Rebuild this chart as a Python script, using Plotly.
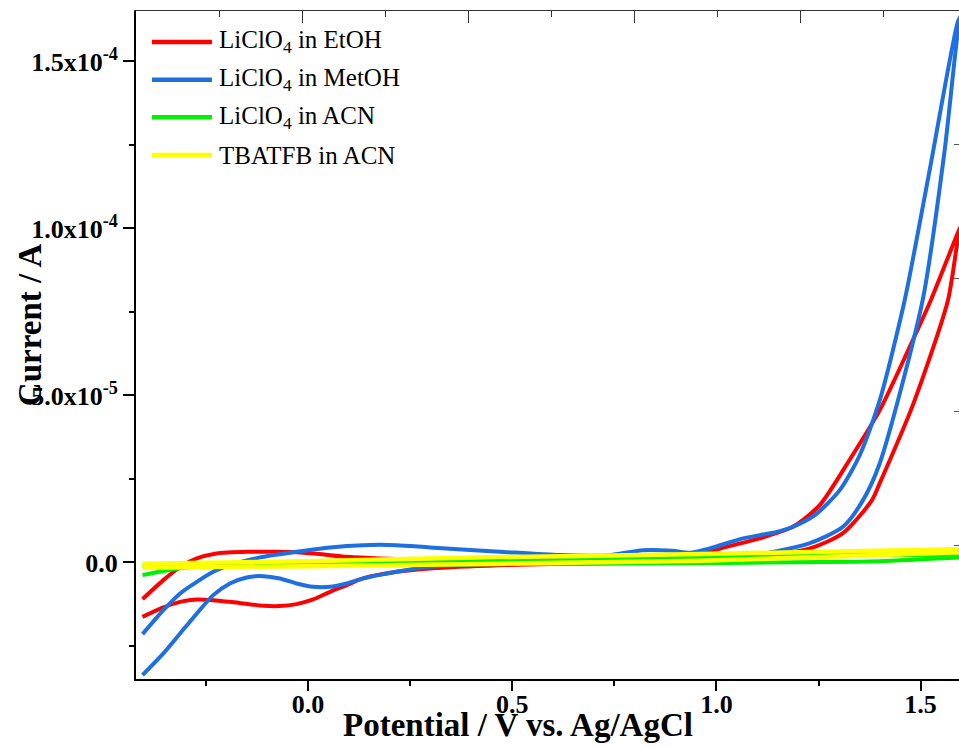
import plotly.graph_objects as go

# ---------------- data (potential in V, current in A) ----------------
names = ["LiClO<sub>4</sub> in EtOH", "LiClO<sub>4</sub> in MetOH",
         "LiClO<sub>4</sub> in ACN", "TBATFB in ACN"]
colors = ["#FF0000", "#1E6FDF", "#00F000", "#FFFF00"]

etoh_fwd_v = [-0.405, -0.354, -0.313, -0.272, -0.224, -0.150, -0.069, 0.013, 0.095, 0.176,
              0.299, 0.470, 0.617, 0.764, 0.942, 1.025, 1.106, 1.187, 1.253, 1.327,
              1.400, 1.481, 1.525, 1.591, 1.600]
etoh_fwd_i = [-10.99e-6, -5.30e-6, -1.32e-6, 1.20e-6, 2.69e-6, 3.17e-6, 3.17e-6, 2.69e-6, 1.68e-6, 1.20e-6,
              0.90e-6, 1.14e-6, 1.35e-6, 1.50e-6, 2.19e-6, 4.67e-6, 7.19e-6, 10.66e-6, 17.16e-6, 30.9e-6,
              45.6e-6, 66.6e-6, 78.5e-6, 98.6e-6, 101.0e-6]
etoh_rev_v = [1.600, 1.591, 1.567, 1.481, 1.400, 1.381, 1.310, 1.229, 1.106, 0.960,
              0.715, 0.470, 0.299, 0.217, 0.135, 0.095, 0.054, 0.013, -0.028, -0.069,
              -0.109, -0.191, -0.232, -0.272, -0.313, -0.354, -0.405]
etoh_rev_i = [101.0e-6, 96.5e-6, 78.5e-6, 47.1e-6, 23.74e-6, 18.65e-6, 8.77e-6, 4.19e-6, 1.68e-6, 0.70e-6,
              -0.21e-6, -0.81e-6, -1.80e-6, -2.81e-6, -4.79e-6, -6.80e-6, -8.80e-6, -11.08e-6, -12.48e-6, -13.08e-6,
              -12.99e-6, -11.80e-6, -11.29e-6, -11.08e-6, -11.80e-6, -13.47e-6, -16.29e-6]

meoh_fwd_v = [-0.405, -0.354, -0.313, -0.272, -0.232, -0.191, -0.109, -0.028, 0.054, 0.135,
              0.217, 0.299, 0.470, 0.617, 0.739, 0.820, 0.893, 0.935, 0.984, 1.065,
              1.148, 1.187, 1.241, 1.302, 1.351, 1.400, 1.461, 1.523, 1.591, 1.600]
meoh_fwd_i = [-21.47e-6, -14.28e-6, -9.28e-6, -5.81e-6, -2.81e-6, -0.81e-6, 1.68e-6, 3.17e-6, 4.49e-6, 5.18e-6,
              5.18e-6, 4.49e-6, 3.23e-6, 2.19e-6, 2.19e-6, 3.68e-6, 3.47e-6, 2.87e-6, 4.19e-6, 7.19e-6,
              9.16e-6, 10.66e-6, 14.16e-6, 21.64e-6, 32.1e-6, 48.6e-6, 78.5e-6, 118.0e-6, 161.8e-6, 164.0e-6]
meoh_rev_v = [1.600, 1.591, 1.559, 1.505, 1.400, 1.359, 1.310, 1.229, 1.138, 1.040,
              0.960, 0.715, 0.470, 0.299, 0.217, 0.135, 0.095, 0.054, 0.013, -0.028,
              -0.069, -0.109, -0.150, -0.191, -0.232, -0.272, -0.313, -0.354, -0.405]
meoh_rev_i = [164.0e-6, 158.6e-6, 123.5e-6, 78.5e-6, 29.7e-6, 18.65e-6, 10.66e-6, 5.78e-6, 3.17e-6, 1.59e-6,
              0.99e-6, 0.39e-6, -0.21e-6, -1.32e-6, -2.81e-6, -4.79e-6, -6.29e-6, -7.31e-6, -7.31e-6, -6.29e-6,
              -4.79e-6, -4.10e-6, -4.49e-6, -6.29e-6, -9.79e-6, -15.27e-6, -21.26e-6, -27.25e-6, -33.74e-6]

acn_fwd_v = [-0.405, -0.313, -0.191, 0.000, 0.225, 0.470, 0.715, 0.960, 1.204, 1.400, 1.600]
acn_fwd_i = [-3.80e-6, -1.71e-6, -1.11e-6, -0.81e-6, -0.66e-6, -0.51e-6, -0.36e-6, -0.21e-6, 0.09e-6, 0.39e-6, 1.50e-6]
acn_rev_v = [1.600, 1.449, 1.351, 1.204, 0.984, 0.715, 0.470, 0.225, 0.000, -0.191, -0.405]
acn_rev_i = [1.80e-6, 2.30e-6, 2.60e-6, 2.30e-6, 1.68e-6, 0.99e-6, 0.39e-6, 0.09e-6, -0.21e-6, -0.51e-6, -1.11e-6]

tba_fwd_v = [-0.405, 0.000, 0.470, 0.960, 1.327, 1.600]
tba_fwd_i = [-1.56e-6, -1.11e-6, -0.36e-6, 0.54e-6, 1.89e-6, 3.08e-6]
tba_rev_v = [1.600, 1.327, 0.960, 0.470, 0.000, -0.405]
tba_rev_i = [3.98e-6, 3.38e-6, 2.49e-6, 1.59e-6, 0.39e-6, -0.36e-6]

y_tickvals = [0.0, 5.0e-5, 1.0e-4, 1.5e-4]
y_ticktext = ["0.0", "5.0x10<sup>-5</sup>", "1.0x10<sup>-4</sup>", "1.5x10<sup>-4</sup>"]
y_minor = [-2.5e-5, 2.5e-5, 7.5e-5, 1.25e-4]
x_title = "Potential / V vs. Ag/AgCl"
y_title = "Current / A"

# ---------------- figure ----------------
FONT = "Liberation Serif, Times New Roman, serif"
series = [
    (names[0], colors[0], 4.0, [(etoh_fwd_v, etoh_fwd_i), (etoh_rev_v, etoh_rev_i)]),
    (names[1], colors[1], 4.0, [(meoh_fwd_v, meoh_fwd_i), (meoh_rev_v, meoh_rev_i)]),
    (names[2], colors[2], 4.0, [(acn_fwd_v, acn_fwd_i), (acn_rev_v, acn_rev_i)]),
    (names[3], colors[3], 4.5, [(tba_fwd_v, tba_fwd_i), (tba_rev_v, tba_rev_i)]),
]

fig = go.Figure()
for name, col, w, branches in series:
    for k, (xv, yv) in enumerate(branches):
        fig.add_trace(go.Scatter(
            x=xv, y=yv, mode="lines", name=name, legendgroup=name,
            showlegend=False,
            line=dict(color=col, width=w, shape="spline", smoothing=0.7),
        ))

# empty trace to host the frame axes (top / right)
fig.add_trace(go.Scatter(x=[], y=[], xaxis="x2", yaxis="y2", showlegend=False, hoverinfo="skip"))

# hand-made legend (long line samples as in the original)
leg_y0 = 0.9536
leg_dy = 0.0564
shapes = []
annotations = []
for k, (name, col, w, _) in enumerate(series):
    yy = leg_y0 - k * leg_dy
    shapes.append(dict(type="line", xref="paper", yref="paper",
                       x0=0.0194, x1=0.0923, y0=yy, y1=yy,
                       line=dict(color=col, width=4.5)))
    annotations.append(dict(xref="paper", yref="paper", x=0.0984, y=yy,
                            xanchor="left", yanchor="middle", showarrow=False,
                            text=name, font=dict(family=FONT, size=25, color="black")))

annotations.append(dict(xref="paper", yref="paper", x=0.464, y=-0.069,
                        xanchor="center", yanchor="middle", showarrow=False,
                        text=x_title, font=dict(family=FONT, size=33, color="black", weight="bold")))
annotations.append(dict(xref="paper", yref="paper", x=-0.129, y=0.531,
                        xanchor="center", yanchor="middle", showarrow=False, textangle=-90,
                        text=y_title, font=dict(family=FONT, size=33, color="black", weight="bold")))

fig.update_layout(
    width=959, height=748,
    margin=dict(l=136, r=0, t=11, b=69, pad=0),
    paper_bgcolor="white", plot_bgcolor="white",
    showlegend=False,
    shapes=shapes, annotations=annotations,
    xaxis=dict(range=[-0.421, 1.594], showgrid=False, zeroline=False,
               showline=True, linecolor="black", linewidth=2,
               ticks="outside", ticklen=10, tickwidth=2, tickcolor="black",
               tick0=0, dtick=0.5, tickformat=".1f", ticklabelstandoff=-9,
               tickfont=dict(family=FONT, size=26, color="black", weight="bold"),
               minor=dict(dtick=0.25, tick0=0, ticks="outside", ticklen=5, tickwidth=2, tickcolor="black")),
    yaxis=dict(range=[-3.49e-5, 1.651e-4], showgrid=False, zeroline=False,
               showline=True, linecolor="black", linewidth=2,
               ticks="outside", ticklen=11, tickwidth=2, tickcolor="black",
               tickmode="array", tickvals=y_tickvals, ticktext=y_ticktext,
               tickfont=dict(family=FONT, size=26, color="black", weight="bold"),
               minor=dict(tickvals=y_minor, ticks="outside", ticklen=5, tickwidth=2, tickcolor="black")),
    xaxis2=dict(overlaying="x", side="top", anchor="y2", range=[0, 823 / 830],
                showgrid=False, zeroline=False, showline=True, linecolor="#333", linewidth=1.2,
                ticks="inside", ticklen=12, tickwidth=1.2, tickcolor="#333",
                tickmode="array", tickvals=[0.2, 0.4, 0.6, 0.8], showticklabels=False,
                minor=dict(tickvals=[0.1, 0.3, 0.5, 0.7, 0.9], ticks="inside", ticklen=6,
                           tickwidth=1.2, tickcolor="#333")),
    yaxis2=dict(overlaying="y", side="right", anchor="x2", range=[0, 1],
                showgrid=False, zeroline=False, showline=False,
                ticks="inside", ticklen=5, tickwidth=1.2, tickcolor="#555",
                tickmode="array", tickvals=[0.2, 0.4, 0.6, 0.8], showticklabels=False),
)

fig.write_html("out.html")
